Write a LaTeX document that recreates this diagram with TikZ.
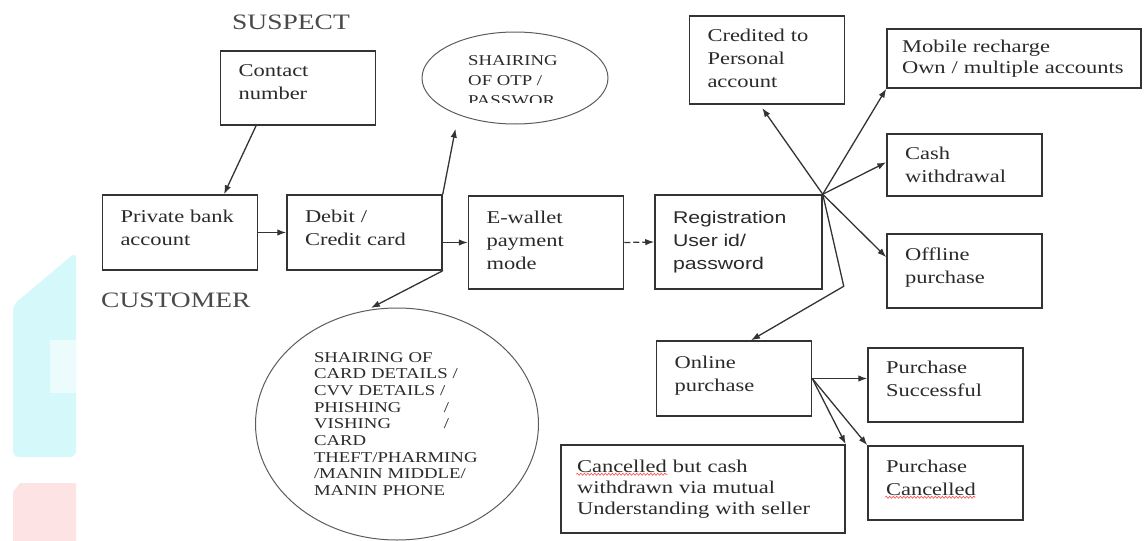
\documentclass[tikz,border=0pt]{standalone}
\usepackage{fontspec}
\setmainfont{Liberation Serif}[FakeStretch=1.25]
\newfontfamily\regsans{Liberation Sans}[FakeStretch=1.25]
\usepackage{xcolor}
\usetikzlibrary{arrows.meta,shapes.geometric,calc,decorations.pathmorphing}

\begin{document}
\begin{tikzpicture}[x=1pt,y=-1pt,
  box/.style={draw=linegray,line width=1.5pt,text=inkgray,align=left,text width=119pt,inner xsep=18pt,inner ysep=0pt,minimum width=155pt,font=\fontsize{18}{23}\selectfont},
  bubble/.style={draw=linegray!80,line width=1pt,ellipse,text=inkgray,align=left,inner sep=0pt,font=\fontsize{15}{16.7}\selectfont},
  arr/.style={draw=linegray,line width=1.3pt,-{Latex[length=9pt,width=6.5pt]}},
  heading/.style={text=inkgray!85,font=\fontsize{22}{26}\selectfont},
  spell/.style={draw=red!75,line width=0.6pt,decorate,decoration={snake,amplitude=1pt,segment length=3.5pt}}]
\definecolor{inkgray}{HTML}{2A2A2A}
\definecolor{linegray}{HTML}{333333}
\definecolor{wmcyan}{HTML}{D5F9FA}
\definecolor{wmpink}{HTML}{FDE3E3}
\useasboundingbox (0,0) rectangle (1144,541);
% faded marks on the left edge
\fill[wmcyan,rounded corners=6pt] (13,305) -- (76,252) -- (76,457) -- (13,457) -- cycle;
\fill[white!55!wmcyan] (50,340) rectangle (76,393);
\fill[wmpink] (13,492) -- (20,483) -- (76,483) -- (76,541) -- (13,541) -- cycle;
\node[heading] (suspect) at (291,22) {SUSPECT};
\node[heading,anchor=west,inner sep=0pt] (customer) at (101,300) {CUSTOMER};
  \foreach \nm/\x/\y/\hgt/\dep/\txt in {contact/298/88/74/35/{Contact\\number},
    private/180/232.5/75/33/{Private bank\\account},
    debit/364.5/232.5/75/33/{Debit /\\Credit card},
    ewallet/546/242.5/93/50/{E-wallet\\payment\\mode},
    credited/767/60/88/50/{Credited to\\Personal\\account},
    cash/964.5/165/62/23/{Cash\\withdrawal},
    offline/964.5/271/74/33/{Offline\\purchase},
    online/734/378.5/75/33/{Online\\purchase},
    success/945.5/385/74/35/{Purchase\\Successful},
    pcancel/945.5/483/74/33/{Purchase\\Cancelled}}
  {  \node[box,minimum height=\hgt,text depth=\dep pt] (\nm) at (\x,\y) {\txt};}
\node[box,font=\regsans\fontsize{17}{23}\selectfont,text width=131pt,minimum width=167pt,minimum height=94pt] (reg) at (738.5,242) {Registration\\User id/\\password};
\node[box,font=\fontsize{18}{21}\selectfont,text width=224pt,inner xsep=15pt,minimum width=254pt,minimum height=59pt] (mobile) at (1014,58.5) {Mobile recharge\\Own / multiple accounts};
\node[box,font=\fontsize{18}{21}\selectfont,text width=252pt,inner xsep=16pt,minimum width=284pt,minimum height=88pt] (cancelbut) at (703,489) {Cancelled but cash\\withdrawn via mutual\\Understanding with seller};
% spell-check marks
\draw[spell] ($(cancelbut.north west)+(16,30)$) -- ++(91,0);
\draw[spell] ($(pcancel.north west)+(18,52)$) -- ++(90,0);
\node[bubble,minimum width=186pt,minimum height=92pt] (otp) at (515,78) {};
\begin{scope}
  \clip (420,30) rectangle (610,102);
  \node[text=inkgray,align=left,inner sep=0pt,font=\fontsize{15}{20}\selectfont] (otptext) at (513,81) {SHAIRING\\OF OTP /\\PASSWOR};
\end{scope}
\node[bubble,minimum width=283pt,minimum height=232pt,text width=166pt] (cardtheft) at (397,424) {SHAIRING OF\\CARD DETAILS /\\CVV DETAILS /\\\makebox[130pt][l]{PHISHING}/\\\makebox[130pt][l]{VISHING}/\\CARD\\THEFT/PHARMING\\/MANIN MIDDLE/\\MANIN PHONE};
\draw[arr] (contact.222) -- (private.41);
\draw[arr] (private.east) -- (debit.west);
\draw[arr] (debit.east |- ewallet.west) -- (ewallet.west);
\draw[arr,shorten >=14pt] (debit.north east) -- (otp.213);
\draw[arr,shorten >=5pt] (debit.south east) -- (cardtheft.105);
\draw[arr,dash pattern=on 6pt off 3pt] (ewallet.east) -- (reg.west);
\draw[arr,shorten >=4pt] (reg.north east) -- (credited.261);
\draw[arr] (reg.north east) -- (mobile.south west);
\draw[arr] (reg.north east) -- (cash.178);
\draw[arr] (reg.north east) -- (offline.170);
\draw[arr] (reg.north east) -- ++(21,92) -- (online.66);
\draw[arr] (online.east) -- (success.west |- online.east);
\draw[arr] (online.east) -- (cancelbut.north east);
\draw[arr] (online.east) -- (pcancel.north west);
\end{tikzpicture}
\end{document}
